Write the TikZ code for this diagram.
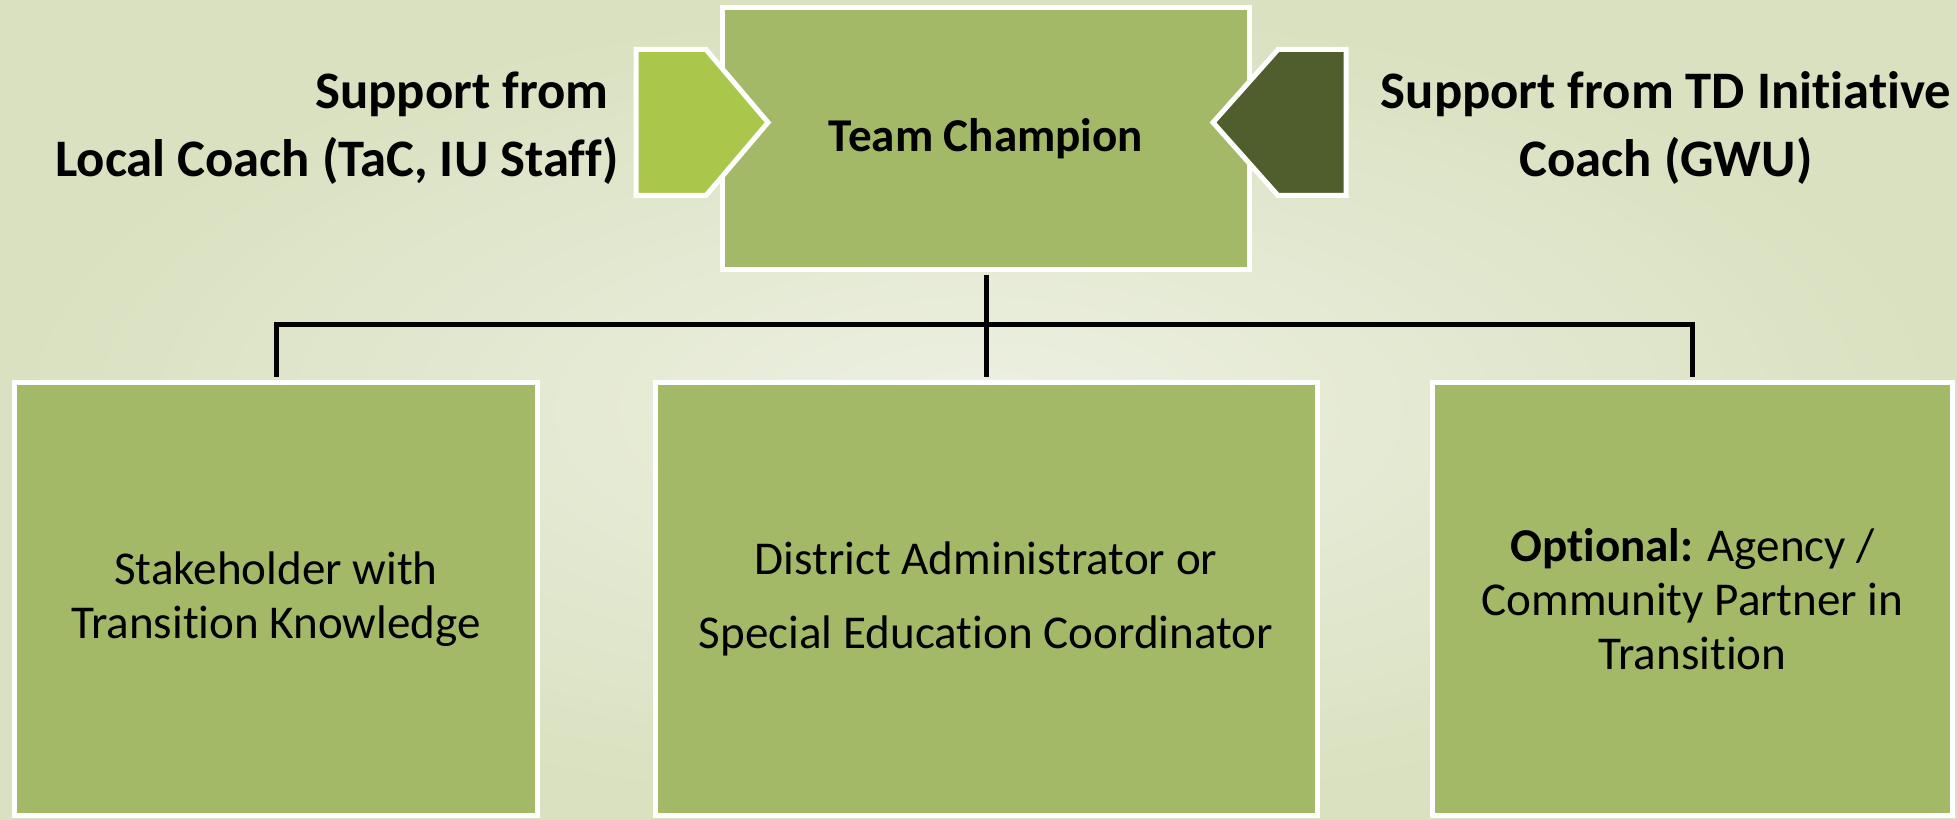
\documentclass[tikz,border=0pt]{standalone}
\usepackage{fontspec}
\setmainfont{Carlito}[Ligatures=NoCommon]
\usepackage{tikz}
\usetikzlibrary{calc,positioning}

\definecolor{bglight}{HTML}{EDF0E2}
\definecolor{bgdark}{HTML}{D9E1C0}
\definecolor{boxgreen}{HTML}{A4B968}
\definecolor{localgreen}{HTML}{A9C74B}
\definecolor{gwugreen}{HTML}{505E2D}

\begin{document}
\begin{tikzpicture}[
    teambox/.style={draw=white, line width=0.05cm, fill=boxgreen, inner sep=0pt,
      align=center, font=\fontsize{13.4}{15.3}\selectfont},
    supportarrow/.style={draw=white, line width=0.05cm, line join=miter},
    supporttext/.style={inner sep=0pt, font=\fontsize{15}{19.3}\selectfont\bfseries},
    link/.style={line width=0.05cm, black}
  ]
    % background
    \shade[inner color=bglight, outer color=bgdark]
    (0,0) rectangle (19.57,8.2);
    \useasboundingbox (0,0) rectangle (19.57,8.2);

    % champion and members
    \node[teambox, minimum width=5.27cm, minimum height=2.62cm] (champ) at (9.86,6.815)
      {\bfseries Team Champion};
    \node[teambox, minimum width=5.23cm, minimum height=4.33cm] (stake) at (2.76,2.21)
      {Stakeholder with\\Transition Knowledge};
    \node[teambox, minimum width=6.62cm, minimum height=4.33cm,
      font=\fontsize{13.4}{21}\selectfont] (admin) at (9.86,2.21)
      {District Administrator or\\Special Education Coordinator};
    \node[teambox, minimum width=5.2cm, minimum height=4.33cm] (partner) at (16.925,2.21)
      {\textbf{Optional:} Agency /\\Community Partner in\\Transition};

    % support arrows
    \fill[localgreen, supportarrow]
    (6.36,7.705) -- (7.06,7.705) -- (7.68,6.975) -- (7.06,6.245) -- (6.36,6.245) -- cycle;
    \fill[gwugreen, supportarrow]
    (13.46,7.705) -- (12.78,7.705) -- (12.13,6.975) -- (12.78,6.245) -- (13.46,6.245) -- cycle;
    \node[supporttext, align=right, anchor=east] (local) at (6.20,6.92)
      {Support from\rule{0.11cm}{0pt}\\Local Coach (TaC, IU Staff)};
    \node[supporttext, align=center] (gwu) at (16.66,6.92)
      {Support from TD Initiative\\Coach (GWU)};

    % tree lines
    \coordinate (bus) at (9.86,4.95);
    \draw[link, shorten <=0.03cm, shorten >=0.03cm]
    (champ.south) -- (admin.north);
    \draw[link, shorten <=0.03cm, shorten >=0.03cm]
    (stake.north) |- (bus) -| (partner.north);
  \end{tikzpicture}
\end{document}
